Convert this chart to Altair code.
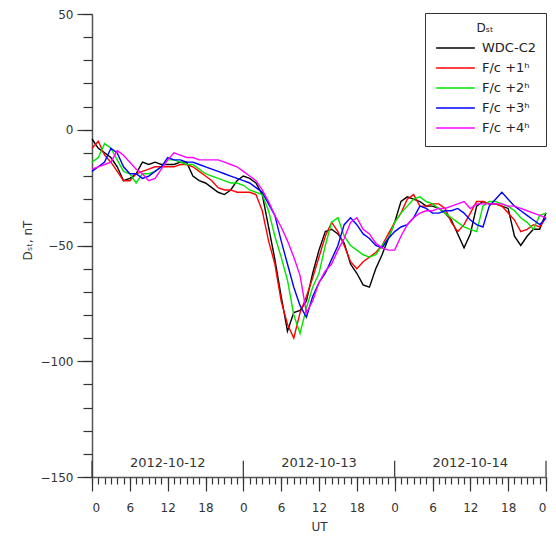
import altair as alt
import pandas as pd

hours = list(range(73))

wdc = [-4, -8, -10, -12, -16, -22, -21, -19, -14, -15, -14, -15, -15, -15, -14, -14,
       -20, -22, -23, -25, -27, -28, -26, -22, -20, -21, -23, -28, -42, -56, -72, -87,
       -79, -78, -74, -62, -52, -44, -43, -45, -49, -58, -62, -67, -68, -60, -54, -47,
       -40, -31, -29, -30, -31, -33, -33, -34, -36, -39, -45, -51, -45, -33, -31, -32,
       -32, -33, -34, -46, -50, -46, -43, -43, -36]
fc1 = [-8, -5, -11, -14, -18, -22, -22, -19, -18, -17, -16, -16, -16, -16, -15, -15,
       -16, -18, -20, -22, -25, -26, -26, -27, -27, -27, -28, -35, -48, -58, -74, -84,
       -90, -79, -72, -64, -55, -46, -40, -44, -50, -57, -60, -57, -55, -53, -50, -45,
       -40, -36, -30, -28, -33, -33, -32, -32, -34, -40, -44, -41, -36, -31, -31, -32,
       -32, -33, -36, -39, -44, -43, -41, -42, -38]
fc2 = [-14, -12, -6, -8, -13, -18, -19, -23, -19, -19, -18, -16, -13, -13, -14, -15,
       -15, -17, -19, -20, -21, -22, -23, -23, -24, -26, -27, -28, -35, -46, -55, -65,
       -80, -88, -77, -68, -62, -50, -40, -38, -46, -50, -52, -54, -55, -54, -50, -47,
       -40, -36, -33, -30, -29, -31, -32, -34, -36, -38, -40, -42, -43, -44, -33, -31,
       -31, -32, -33, -35, -38, -40, -43, -37, -36]
fc3 = [-18, -16, -14, -8, -10, -16, -19, -19, -21, -20, -18, -16, -12, -13, -13, -14,
       -14, -15, -16, -17, -18, -19, -20, -21, -22, -23, -25, -27, -32, -37, -48, -58,
       -68, -76, -81, -72, -66, -62, -56, -50, -41, -38, -41, -45, -47, -50, -51, -47,
       -44, -42, -41, -38, -33, -34, -36, -36, -35, -35, -34, -36, -39, -41, -42, -33,
       -30, -27, -30, -33, -35, -37, -39, -41, -38]
fc4 = [-17, -16, -15, -14, -9, -11, -14, -17, -19, -22, -21, -17, -13, -10, -11, -12,
       -12, -13, -13, -13, -13, -14, -15, -16, -18, -20, -22, -26, -31, -37, -42, -48,
       -55, -63, -79, -74, -66, -61, -58, -52, -47, -40, -38, -43, -45, -49, -51, -52,
       -52, -46, -41, -38, -36, -35, -35, -34, -34, -33, -32, -31, -34, -32, -32, -32,
       -32, -32, -33, -33, -34, -35, -36, -37, -38]

series_names = ["WDC-C2", "F/c +1ʰ", "F/c +2ʰ", "F/c +3ʰ", "F/c +4ʰ"]
series_colors = ["#000000", "#ff0000", "#00e600", "#0000ff", "#ff00ff"]

y_major = [-150, -100, -50, 0, 50]
y_minor = list(range(-150, 51, 10))
x_six = list(range(0, 73, 6))
day_bounds = [0, 24, 48, 72]
day_centers = [12, 36, 60]
day_labels = ["2012-10-12", "2012-10-13", "2012-10-14"]

rows = []
for name, vals in zip(series_names, [wdc, fc1, fc2, fc3, fc4]):
    for h, v in zip(hours, vals):
        rows.append({"hour": h, "dst": v, "series": name})
df = pd.DataFrame(rows)

FONT = "DejaVu Sans"
xscale = alt.Scale(domain=[0, 72], nice=False, zero=False)
yscale = alt.Scale(domain=[-150, 50], nice=False, zero=False)

lines = alt.Chart(df).mark_line(strokeWidth=1.4, clip=False).encode(
    x=alt.X("hour:Q", scale=xscale,
            axis=alt.Axis(orient="bottom", values=hours, tickSize=7, labels=False,
                          title=None, grid=False, domain=True, domainColor="#555",
                          domainWidth=1.5, tickColor="#333", tickWidth=1.2)),
    y=alt.Y("dst:Q", scale=yscale,
            axis=alt.Axis(orient="left", values=y_major, tickSize=15, grid=False,
                          domain=True, domainColor="#555", domainWidth=1.5,
                          tickColor="#333", tickWidth=1.2, labelPadding=4,
                          labelFontSize=12, labelColor="#333", labelFont=FONT,
                          title="Dₛₜ, nT", titleFont=FONT, titleFontSize=12,
                          titleFontWeight="normal", titleColor="#333",
                          titleX=-65, titleY=226, titleAngle=270,
                          titleAlign="center", titleBaseline="middle")),
    color=alt.Color("series:N",
                    scale=alt.Scale(domain=series_names, range=series_colors),
                    legend=alt.Legend(title="Dₛₜ", orient="none", legendX=333, legendY=-1,
                                      strokeColor="#333", fillColor="white", padding=10,
                                      symbolType="stroke", symbolSize=1500,
                                      symbolStrokeWidth=1.5, labelFontSize=13,
                                      labelFont=FONT, labelColor="#222",
                                      titleFont=FONT, titleFontSize=12,
                                      titleFontWeight="normal", titleColor="#222",
                                      titleAnchor="middle", titlePadding=5,
                                      clipHeight=16, rowPadding=4, labelOffset=6)),
)

minor_y = alt.Chart(pd.DataFrame({"v": y_minor})).mark_point(opacity=0).encode(
    y=alt.Y("v:Q", scale=yscale,
            axis=alt.Axis(orient="left", values=y_minor, tickSize=9, labels=False,
                          domain=False, grid=False, title=None, tickColor="#333",
                          tickWidth=1.2)),
)

day_df = pd.DataFrame({"h": day_bounds, "y0": [-150] * 4, "y1": [-143] * 4})
day_rules = alt.Chart(day_df).mark_rule(color="#333", strokeWidth=1.2).encode(
    x=alt.X("h:Q", scale=xscale,
            axis=alt.Axis(orient="bottom", values=x_six, tickSize=14, grid=False,
                          domain=False, labelExpr="datum.value % 24", labelPadding=11,
                          labelFontSize=12, labelFont=FONT, labelColor="#333",
                          tickColor="#333", tickWidth=1.2,
                          title="UT", titleFont=FONT, titleFontSize=12,
                          titleFontWeight="normal", titleColor="#333",
                          titleY=49, titleBaseline="middle")),
    y=alt.Y("y0:Q", scale=yscale, axis=None),
    y2="y1:Q",
)

day_text_df = pd.DataFrame({"h": day_centers, "y": [-144] * 3, "label": day_labels})
day_text = alt.Chart(day_text_df).mark_text(font=FONT, fontSize=13, color="#333",
                                             baseline="middle").encode(
    x=alt.X("h:Q", scale=xscale, axis=None),
    y=alt.Y("y:Q", scale=yscale, axis=None),
    text="label:N",
)

chart = alt.layer(lines, minor_y, day_rules, day_text).properties(
    width=454, height=463,
    autosize=alt.AutoSizeParams(type="none"),
    padding={"left": 84, "top": 6, "right": 2, "bottom": 55},
).configure_view(stroke=None).resolve_axis(x="independent", y="independent")

chart.save("out.html", embed_options={"renderer": "svg", "actions": False})
